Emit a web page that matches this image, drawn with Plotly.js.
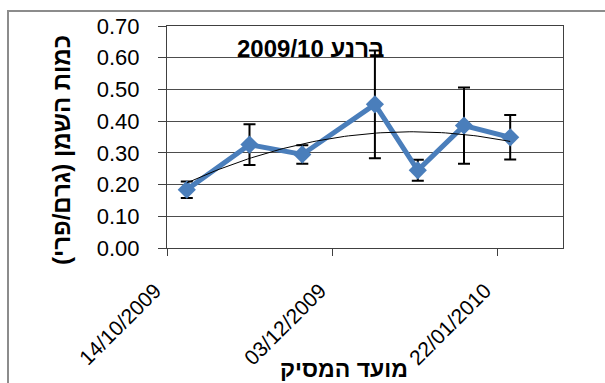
<!DOCTYPE html>
<html>
<head>
<meta charset="utf-8">
<script src="https://cdn.plot.ly/plotly-3.0.1.min.js"></script>
<style>
  html, body { margin: 0; padding: 0; background: #fff; }
  #chart { width: 605px; height: 383px; }
</style>
</head>
<body>
<div id="chart"></div>
<script>
// Harvest dates and fruit oil content (g/fruit) with standard deviations
const harvestDates = ['2009-10-20', '2009-11-08', '2009-11-24', '2009-12-16', '2009-12-29', '2010-01-12', '2010-01-26'];
const oilPerFruit  = [0.184, 0.326, 0.295, 0.453, 0.245, 0.386, 0.349];
const oilError     = [0.026, 0.064, 0.029, 0.170, 0.033, 0.120, 0.070];

const tickDates  = ['2009-10-14', '2009-12-03', '2010-01-22'];
const tickLabels = ['14/10/2009', '03/12/2009', '22/01/2010'];
const axisRange  = ['2009-10-14', '2010-02-11'];

const chartTitle = '2009/10 ברנע';
const yTitle = '\u200Fכמות השמן (גרם/פרי)\u200F';
const xTitle = '\u200Fמועד המסיק\u200F';

// Second-order polynomial trendline (least squares) over the harvest dates
const DAY = 86400000;
const t0 = Date.parse(harvestDates[0]);
const xs = harvestDates.map(d => (Date.parse(d) - t0) / DAY);
function quadFit(x, y) {
  let s = [0, 0, 0, 0, 0], r = [0, 0, 0];
  for (let i = 0; i < x.length; i++) {
    let p = 1;
    for (let k = 0; k < 5; k++) { s[k] += p; if (k < 3) r[k] += p * y[i]; p *= x[i]; }
  }
  const A = [[s[0], s[1], s[2], r[0]], [s[1], s[2], s[3], r[1]], [s[2], s[3], s[4], r[2]]];
  for (let c = 0; c < 3; c++) {
    for (let j = c + 1; j < 3; j++) {
      const f = A[j][c] / A[c][c];
      for (let k = c; k < 4; k++) A[j][k] -= f * A[c][k];
    }
  }
  const b = [0, 0, 0];
  for (let c = 2; c >= 0; c--) {
    let v = A[c][3];
    for (let k = c + 1; k < 3; k++) v -= A[c][k] * b[k];
    b[c] = v / A[c][c];
  }
  return b;
}
const coef = quadFit(xs, oilPerFruit);
const trendX = [], trendY = [];
const span = xs[xs.length - 1];
for (let i = 0; i <= 80; i++) {
  const d = span * i / 80;
  const iso = new Date(t0 + d * DAY).toISOString();
  trendX.push(iso.slice(0, 10) + ' ' + iso.slice(11, 19));
  trendY.push(coef[0] + coef[1] * d + coef[2] * d * d);
}

const blue = '#4A7EBB';
const font = 'Liberation Sans, Arial, sans-serif';

const traces = [
  {
    x: harvestDates, y: oilPerFruit, type: 'scatter', mode: 'lines+markers',
    line: { color: blue, width: 5 },
    marker: { symbol: 'diamond', size: 14, color: blue },
    error_y: { type: 'data', array: oilError, visible: true, color: '#000', thickness: 2, width: 6 },
    hoverinfo: 'x+y'
  },
  {
    x: trendX, y: trendY, type: 'scatter', mode: 'lines',
    line: { color: '#000', width: 1 }, hoverinfo: 'skip'
  }
];

const L = 167, R = 563, T = 26, B = 248, W = 605, H = 383;
const px = v => (v - L) / (R - L);
const py = v => (B - v) / (B - T);

const layout = {
  width: W, height: H,
  margin: { l: L, r: W - R, t: T, b: H - B },
  paper_bgcolor: '#fff', plot_bgcolor: '#fff',
  showlegend: false,
  font: { family: font, color: '#000' },
  xaxis: {
    type: 'date', range: axisRange,
    tickmode: 'array', tickvals: tickDates, ticktext: tickLabels,
    tickangle: -45, tickfont: { size: 21, family: font },
    ticklabelstandoff: 14, ticklabelshift: -12,
    ticks: 'outside', ticklen: 7, tickcolor: '#404040', tickwidth: 1,
    showgrid: false, zeroline: false,
    showline: true, linecolor: '#404040', linewidth: 1, mirror: true
  },
  yaxis: {
    range: [0, 0.7], dtick: 0.1, tickformat: '.2f',
    tickfont: { size: 22, family: font },
    ticklabelstandoff: 14,
    ticks: 'outside', ticklen: 8, tickcolor: '#404040',
    showgrid: true, gridcolor: '#4d4d4d', gridwidth: 1,
    zeroline: false, showline: true, linecolor: '#404040', linewidth: 1, mirror: true
  },
  annotations: [
    { text: chartTitle, xref: 'paper', yref: 'paper', x: px(310), y: py(48),
      xanchor: 'center', yanchor: 'middle', showarrow: false,
      font: { size: 24, family: font, weight: 'bold' } },
    { text: yTitle, xref: 'paper', yref: 'paper', x: px(61), y: py(150),
      xanchor: 'center', yanchor: 'middle', showarrow: false, textangle: -90,
      font: { size: 24, family: font, weight: 'bold' } },
    { text: xTitle, xref: 'paper', yref: 'paper', x: px(344), y: py(369),
      xanchor: 'center', yanchor: 'middle', showarrow: false,
      font: { size: 23, family: font, weight: 'bold' } }
  ],
  shapes: [
    { type: 'line', xref: 'paper', yref: 'paper', x0: px(8), x1: px(W + 5), y0: py(11), y1: py(11),
      line: { color: '#8c8c8c', width: 2 } },
    { type: 'line', xref: 'paper', yref: 'paper', x0: px(8), x1: px(8), y0: py(10), y1: py(H + 5),
      line: { color: '#8c8c8c', width: 2 } }
  ]
};

Plotly.newPlot('chart', traces, layout, { staticPlot: true, displayModeBar: false });
</script>
</body>
</html>
